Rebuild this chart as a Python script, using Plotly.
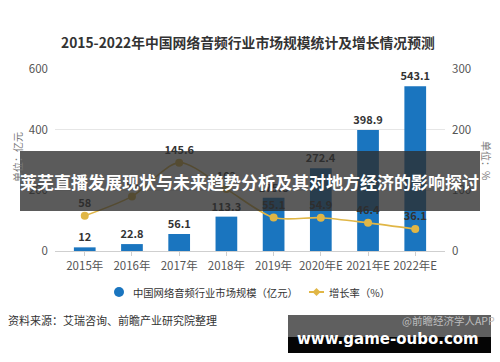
import plotly.graph_objects as go

years = ["2015年", "2016年", "2017年", "2018年", "2019年", "2020年E", "2021年E", "2022年E"]
market_size = [12, 22.8, 56.1, 113.3, 175.8, 272.4, 398.9, 543.1]
growth_rate = [58, 90, 145.6, 102, 55.1, 54.9, 46.4, 36.1]
left_ticks = [0, 200, 400, 600]
right_ticks = [0, 100, 200, 300]
legend_names = ["中国网络音频行业市场规模（亿元）", "增长率（%）"]

FONT = "Noto Sans CJK SC, Noto Sans, sans-serif"
BAR_C = "#1a75bf"
LINE_C = "#e0b646"
H = 362.0

def py(px):
    return 1 - px / H

def pxx(px):
    return px / 500

fig = go.Figure()
fig.add_trace(go.Bar(
    x=years, y=market_size, marker_color=BAR_C, width=0.46,
    text=[f"{v:g}" for v in market_size], textposition="outside", constraintext="none",
    textfont=dict(size=11, color="#333", family=FONT, weight="bold"),
    cliponaxis=False, showlegend=False, yaxis="y",
))
fig.add_trace(go.Scatter(
    x=years, y=growth_rate, mode="lines+markers+text",
    line=dict(color=LINE_C, width=1.6, shape="spline", smoothing=0.8),
    marker=dict(color=LINE_C, size=8),
    text=[f"{v:g}" for v in growth_rate], textposition="top center",
    textfont=dict(size=11, color="#333", family=FONT, weight="bold"),
    cliponaxis=False, showlegend=False, yaxis="y2",
))

fig.update_layout(
    template="none", autosize=False, showlegend=False,
    width=500, height=362, margin=dict(l=0, r=0, t=0, b=0, autoexpand=False),
    paper_bgcolor="white", plot_bgcolor="white",
    font=dict(family=FONT, color="#555", size=11),
    hovermode=False,
    xaxis=dict(domain=[0.11, 0.89], range=[-0.63, 7.63], showgrid=False, automargin=False,
               showline=True, linecolor="#cfcfcf", ticks="outside", ticklen=4, tickcolor="#cfcfcf",
               tickfont=dict(size=11.5, color="#555")),
    yaxis=dict(domain=[py(251), py(69)], range=[0, 600], tickvals=left_ticks, automargin=False,
               gridcolor="#e6e6e6", gridwidth=1, zeroline=False, showline=False, ticks="",
               tickfont=dict(size=11.5, color="#555"), ticklabelstandoff=6),
    yaxis2=dict(overlaying="y", side="right", range=[0, 300], tickvals=right_ticks, automargin=False,
                showgrid=False, zeroline=False, showline=False, ticks="",
                tickfont=dict(size=11.5, color="#555"), ticklabelstandoff=6),
)

def ann(text, x, y, size, color, xanchor="center", family=FONT, angle=0):
    return dict(text=text, x=pxx(x), y=py(y), xref="paper", yref="paper", showarrow=False,
                xanchor=xanchor, yanchor="middle", textangle=angle,
                font=dict(size=size, color=color, family=family))

annotations = [
    ann("<b>2015-2022年中国网络音频行业市场规模统计及增长情况预测</b>", 248, 42, 13.8, "#333"),
    ann("单位：亿元", 18, 157, 10, "#777", angle=-90),
    ann("单位：%", 487, 160, 10, "#777", angle=90),
    ann(legend_names[0], 131, 292, 10.3, "#333", xanchor="left"),
    ann(legend_names[1], 327, 292, 10.3, "#333", xanchor="left"),
    ann("资料来源：艾瑞咨询、前瞻产业研究院整理", 6, 320, 11, "#333", xanchor="left"),
    ann("@前瞻经济学人APP", 497, 320, 10.5, "#bdbdbd", xanchor="right"),
    ann("<b>莱芜直播发展现状与未来趋势分析及其对地方经济的影响探讨</b>", 249, 181, 17, "white"),
    ann("<b>www.game-oubo.com</b>", 388, 339, 15, "white", family="DejaVu Sans"),
]
fig.update_layout(annotations=annotations)

def diamond(cx, cy, r):
    return (f"M {pxx(cx - r)} {py(cy)} L {pxx(cx)} {py(cy - r)} "
            f"L {pxx(cx + r)} {py(cy)} L {pxx(cx)} {py(cy + r)} Z")

shapes = [
    # legend keys
    dict(type="circle", xref="paper", yref="paper", x0=pxx(114), x1=pxx(124), y0=py(297), y1=py(287),
         fillcolor=BAR_C, line=dict(width=0)),
    dict(type="line", xref="paper", yref="paper", x0=pxx(309), x1=pxx(324), y0=py(292), y1=py(292),
         line=dict(color=LINE_C, width=2)),
    dict(type="path", xref="paper", yref="paper", path=diamond(316.5, 292, 4),
         fillcolor=LINE_C, line=dict(width=0)),
    # overlays
    dict(type="rect", xref="paper", yref="paper", x0=pxx(20), x1=pxx(480), y0=py(211), y1=py(151),
         fillcolor="rgba(45,45,45,0.78)", line=dict(width=0), layer="above"),
    dict(type="rect", xref="paper", yref="paper", x0=pxx(288), x1=pxx(491), y0=py(337), y1=py(315),
         fillcolor="rgba(60,60,60,0.82)", line=dict(width=0), layer="above"),
    dict(type="rect", xref="paper", yref="paper", x0=pxx(288), x1=pxx(491), y0=py(353), y1=py(337),
         fillcolor="#050505", line=dict(width=0), layer="above"),
]
fig.update_layout(shapes=shapes)

fig.write_html("out.html", config={"displayModeBar": False, "responsive": False},
               post_script="document.body.style.margin='0px';")
